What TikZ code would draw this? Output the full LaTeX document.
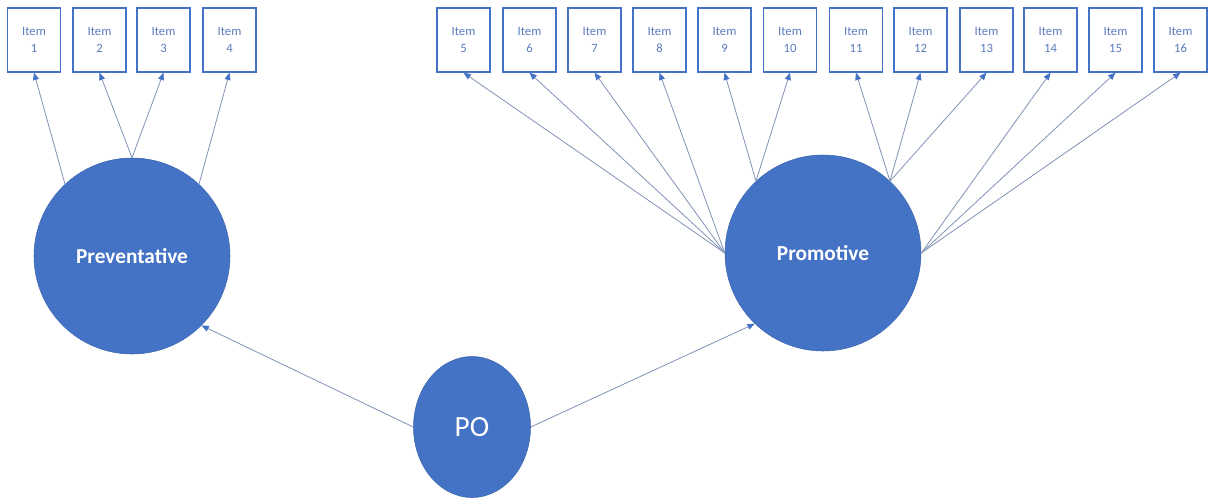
\documentclass[tikz,border=0pt]{standalone}
\usepackage{fontspec}
\setmainfont{Carlito}
\usetikzlibrary{arrows.meta,shapes.geometric}
\definecolor{officeblue}{RGB}{68,114,196}
\definecolor{itemtext}{RGB}{92,124,190}
\definecolor{linkgray}{RGB}{128,146,182}
\tikzset{
  itembox/.style={draw=officeblue, line width=1pt, fill=white,
    minimum width=39.75pt, minimum height=48pt, inner sep=0pt,
    align=center, text=itemtext, font=\fontsize{9.5}{15}\selectfont},
  factor/.style={circle, fill=officeblue, draw=officeblue!90!black, line width=0.4pt,
    minimum size=147pt, inner sep=0pt, text=white, font=\fontsize{16}{18}\selectfont\bfseries},
  higher/.style={ellipse, fill=officeblue, draw=officeblue!90!black, line width=0.4pt,
    minimum width=87.75pt, minimum height=105.75pt, inner sep=0pt, text=white,
    font=\fontsize{22}{24}\selectfont},
  link/.style={draw=linkgray, line width=0.6pt,
    -{Triangle[length=5.5pt,width=4.5pt,color=officeblue]}}
}
\begin{document}
\begin{tikzpicture}[x=0.75pt,y=-0.75pt]
\useasboundingbox (0,0) rectangle (1216,500);

% indicator boxes
\foreach \n/\x in {1/34,2/99.5,3/163.5,4/229.5,
                   5/463.5,6/529.5,7/594.5,8/659.5,9/724.5,10/790,
                   11/856,12/920.5,13/986.5,14/1050.5,15/1115.5,16/1180.5}
  \node[itembox] (i\n) at (\x,40) {\raisebox{-1.5pt}{Item}\\[-1pt]\n};

% latent factors
\node[factor] (prev) at (132,256) {Preventative};
\node[factor] (prom) at (823,253) {Promotive};
\node[higher] (po) at (472,427) {PO};

% loadings of Preventative
\draw[link] (prev.133) -- (i1.south);
\draw[link] (prev.90) -- (i2.south);
\draw[link] (prev.90) -- (i3.south);
\draw[link] (prev.47) -- (i4.south);

% loadings of Promotive
\foreach \n in {5,6,7,8} \draw[link] (prom.180) -- (i\n.south);
\foreach \n in {9,10} \draw[link] (prom.133) -- (i\n.south);
\foreach \n in {11,12,13} \draw[link] (prom.47) -- (i\n.south);
\foreach \n in {14,15,16} \draw[link] (prom.0) -- (i\n.south);

% second-order paths
\draw[link] (po.180) -- (prev.-45);
\draw[link] (po.0) -- (prom.226);
\end{tikzpicture}
\end{document}
